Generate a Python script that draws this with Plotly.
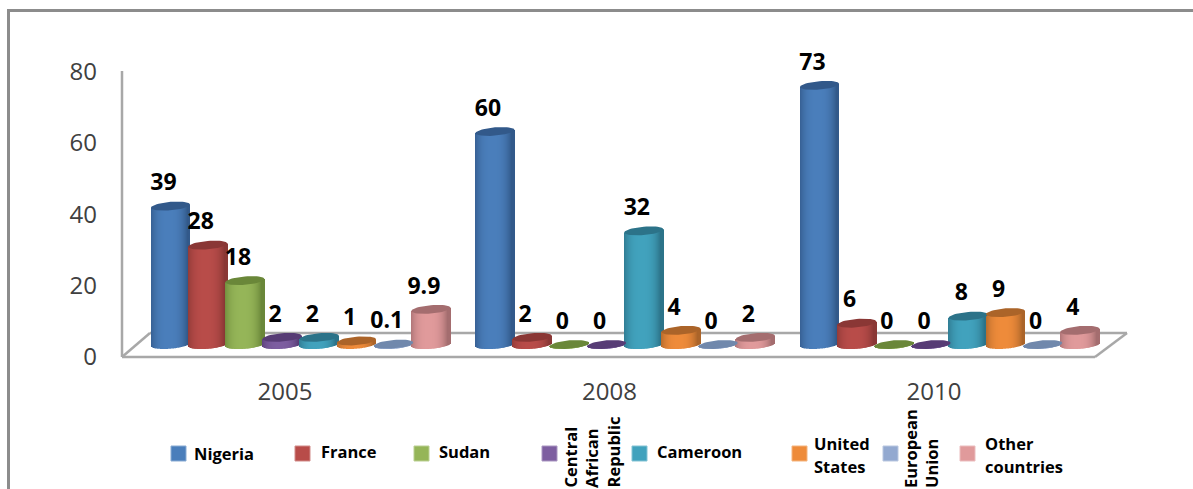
import numpy as np
import plotly.graph_objects as go

# Values per country, one entry per year
years = ["2005", "2008", "2010"]
nigeria = [39, 60, 73]
france = [28, 2, 6]
sudan = [18, 0, 0]
central_african_republic = [2, 0, 0]
cameroon = [2, 32, 8]
united_states = [1, 4, 9]
european_union = [0.1, 0, 0]
other_countries = [9.9, 2, 4]
value_ticks = [0, 20, 40, 60, 80]

WIDTH, HEIGHT = 1193, 489

series = [
    ("Nigeria", nigeria, "#4a7ebb", "#32598a"),
    ("France", france, "#b84c49", "#8a3735"),
    ("Sudan", sudan, "#95b558", "#6a8739"),
    ("Central African Republic", central_african_republic, "#7d5ea0", "#573c75"),
    ("Cameroon", cameroon, "#41a2bd", "#2c7389"),
    ("United States", united_states, "#ee8b3a", "#ab6429"),
    ("European Union", european_union, "#93a9d0", "#7088ac"),
    ("Other countries", other_countries, "#e09a9b", "#a46d6f"),
]

# Layout of the pseudo-3D scene, in pixels of the page
GROUP_PX = 324.5
GROUP0_PX = 300.7
STEP_PX = 37.2
CYL_W_PX = 39.0
ZERO_PX = 344.5
UNIT_PX = 3.55
ELL_B_PX = 4.2
ELL_TILT_PX = 1.6
STRIPS = 39
WALL_ZERO_PX = 357.0
WALL_UNIT_PX = 3.569


def mix(c1, c2, t):
    a = np.array([int(c1[i:i + 2], 16) for i in (1, 3, 5)], float)
    b = np.array([int(c2[i:i + 2], 16) for i in (1, 3, 5)], float)
    r = a * (1 - t) + b * t
    return "rgb(%d,%d,%d)" % tuple(r.round())


def px_to_x(px):
    return px / GROUP_PX


fig = go.Figure()
u_strips = (np.arange(STRIPS) + 0.5) / STRIPS * 2 - 1
n_series = len(series)

label_x, label_y, label_text = [], [], []

for s_idx, (name, vals, body, top) in enumerate(series):
    slot_px = (s_idx - (n_series - 1) / 2) * STEP_PX
    xs, bases, heights, colors = [], [], [], []
    ell_x, ell_y = [], []
    for g_idx, v in enumerate(vals):
        center = g_idx + px_to_x(slot_px)
        for u in u_strips:
            xs.append(center + px_to_x(u * CYL_W_PX / 2))
            lower = (ELL_B_PX * np.sqrt(1 - u * u) - ELL_TILT_PX * u) / UNIT_PX
            shift = ELL_TILT_PX * u / UNIT_PX
            bases.append(-lower)
            heights.append(v + shift + lower)
            # Round shading: darker at both edges, brightest left of centre
            shade = min(1.0, abs(u + 0.1) ** 2.8 * 1.1)
            colors.append(mix(body, top, shade))
        t = np.linspace(0, 2 * np.pi, 49)
        ell_x += list(center + px_to_x(np.cos(t) * CYL_W_PX / 2)) + [None]
        ell_y += list(v + (ELL_B_PX * np.sin(t) + ELL_TILT_PX * np.cos(t)) / UNIT_PX) + [None]
        label_x.append(center - px_to_x(7))
        label_y.append(v + 10 / UNIT_PX)
        label_text.append(str(v))
    fig.add_trace(go.Bar(
        x=xs, y=heights, base=bases, width=px_to_x(CYL_W_PX / STRIPS),
        marker=dict(color=colors, line=dict(width=0)),
        name=name, hoverinfo="skip",
    ))
    fig.add_trace(go.Scatter(
        x=ell_x, y=ell_y, mode="lines", fill="toself", fillcolor=top,
        line=dict(width=0, color=top), hoverinfo="skip", name=name,
    ))

fig.add_trace(go.Scatter(
    x=label_x, y=label_y, mode="text", text=label_text, textposition="top center",
    textfont=dict(family="Open Sans", size=23, color="#000000", weight="bold"),
    hoverinfo="skip",
))

# Carries the visible axes, which sit on the back wall and front edge of the floor
fig.add_trace(go.Scatter(
    x=list(range(len(years))), y=[0] * len(years), xaxis="x2", yaxis="y2",
    mode="none", hoverinfo="skip",
))


def xp(px):
    return px / WIDTH


def yp(py):
    return 1 - py / HEIGHT


GREY = "#a8a8a8"
FRAME = "#8c8c8c"
shapes = [
    dict(type="line", xref="paper", yref="paper", x0=xp(8.5), x1=xp(8.5), y0=0, y1=yp(9),
         line=dict(color=FRAME, width=3)),
    dict(type="line", xref="paper", yref="paper", x0=xp(7), x1=1, y0=yp(10.5), y1=yp(10.5),
         line=dict(color=FRAME, width=3)),
]
# Wall edge and floor outline
floor = [((122, 357), (122, 71)), ((122, 357), (1095, 357)), ((150, 333), (1127, 333)),
         ((122, 357), (150, 333)), ((1095, 357), (1127, 333))]
for (x0, y0), (x1, y1) in floor:
    shapes.append(dict(type="line", xref="paper", yref="paper", layer="below",
                       x0=xp(x0), x1=xp(x1), y0=yp(y0), y1=yp(y1),
                       line=dict(color=GREY, width=2.5)))

# Legend drawn by hand because some entries are set vertically
LEG = dict(family="Open Sans", size=16.5, color="#000000", weight="bold")
swatch_left = [171, 295, 414, 542, 632, 792, 883, 960]
swatch_top = [446, 446, 446, 446, 446, 446, 446, 446]
annotations = []
for (name, _, body, top), sx, sy in zip(series, swatch_left, swatch_top):
    shapes.append(dict(type="rect", xref="paper", yref="paper",
                       x0=xp(sx), x1=xp(sx + 15), y0=yp(sy), y1=yp(sy + 15),
                       fillcolor=body, line=dict(color=mix(body, "#ffffff", 0.35), width=1)))

horizontal = [("Nigeria", 192, 453), ("France", 319, 451), ("Sudan", 437, 451),
              ("Cameroon", 655, 451), ("United", 812, 443), ("States", 812, 466),
              ("Other", 983, 443), ("countries", 983, 466)]
for text, px, py in horizontal:
    annotations.append(dict(text=text, xref="paper", yref="paper", x=xp(px), y=yp(py),
                            xanchor="left", yanchor="middle", showarrow=False, font=LEG))
vertical = [("Central", 570), ("African", 591), ("Republic", 613),
            ("European", 910.5), ("Union", 931.5)]
for text, px in vertical:
    annotations.append(dict(text=text, xref="paper", yref="paper", x=xp(px), y=yp(490),
                            xanchor="center", yanchor="bottom", textangle=-90,
                            showarrow=False, font=LEG))

TICK = dict(family="Open Sans", size=24, color="#404040")

fig.update_layout(
    width=WIDTH, height=HEIGHT, margin=dict(l=0, r=0, t=0, b=0),
    paper_bgcolor="#ffffff", plot_bgcolor="#ffffff",
    barmode="overlay", showlegend=False,
    shapes=shapes, annotations=annotations,
    xaxis=dict(visible=False, fixedrange=True,
               range=[-GROUP0_PX / GROUP_PX, (WIDTH - GROUP0_PX) / GROUP_PX]),
    yaxis=dict(visible=False, fixedrange=True,
               range=[(ZERO_PX - HEIGHT) / UNIT_PX, ZERO_PX / UNIT_PX]),
    xaxis2=dict(overlaying="x", anchor="free", position=yp(357), side="bottom",
                range=[-285 / GROUP_PX, (WIDTH - 285) / GROUP_PX],
                tickmode="array", tickvals=list(range(len(years))), ticktext=years,
                showgrid=False, zeroline=False, showline=False, ticks="",
                ticklabelstandoff=18, tickfont=TICK, fixedrange=True),
    yaxis2=dict(overlaying="y", anchor="free", position=xp(122), side="left",
                range=[(WALL_ZERO_PX - HEIGHT) / WALL_UNIT_PX, WALL_ZERO_PX / WALL_UNIT_PX],
                tickmode="array", tickvals=value_ticks,
                showgrid=False, zeroline=False, showline=False,
                ticks="", ticklabelstandoff=25, tickfont=TICK, fixedrange=True),
)

fig.write_html("out.html", config=dict(displayModeBar=False))
